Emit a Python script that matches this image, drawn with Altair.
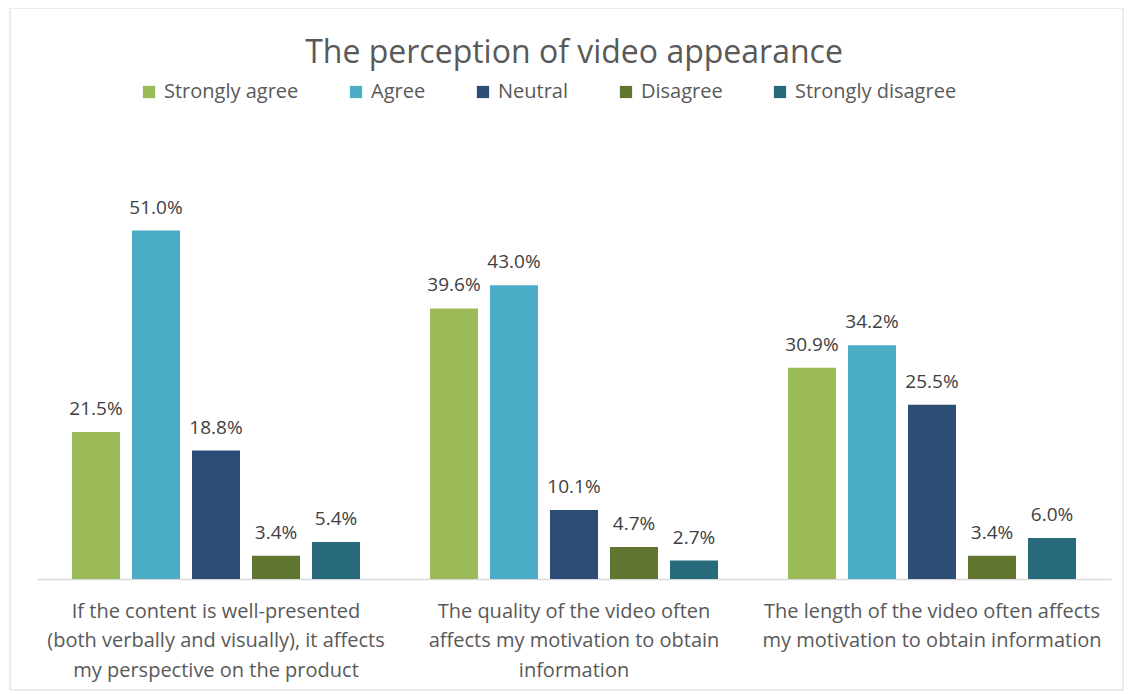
import altair as alt
import pandas as pd

questions = [
    "If the content is well-presented|(both verbally and visually), it affects|my perspective on the product",
    "The quality of the video often|affects my motivation to obtain|information",
    "The length of the video often affects|my motivation to obtain information",
]
responses = ["Strongly agree", "Agree", "Neutral", "Disagree", "Strongly disagree"]
colors = ["#9BBB59", "#4BACC6", "#2C4D75", "#5F7530", "#276A7C"]
q1_values = [21.5, 51.0, 18.8, 3.4, 5.4]
q2_values = [39.6, 43.0, 10.1, 4.7, 2.7]
q3_values = [30.9, 34.2, 25.5, 3.4, 6.0]

rows = []
for q, vals in zip(questions, [q1_values, q2_values, q3_values]):
    for r, v in zip(responses, vals):
        rows.append({"question": q, "response": r, "value": v})
df = pd.DataFrame(rows)

FONT = "Open Sans"

base = alt.Chart(df).encode(
    x=alt.X(
        "question:N",
        sort=questions,
        scale=alt.Scale(paddingInner=0, paddingOuter=0),
        axis=alt.Axis(
            title=None,
            labelExpr="split(datum.label, '|')",
            labelAngle=0,
            labelFont=FONT,
            labelFontSize=20,
            labelColor="#595959",
            labelLineHeight=29.5,
            labelPadding=22,
            labelLimit=0,
            domainColor="#d9d9d9",
            domainWidth=1.5,
            ticks=False,
        ),
    ),
    xOffset=alt.XOffset(
        "response:N",
        sort=responses,
        scale=alt.Scale(paddingInner=0.2, paddingOuter=0.583),
    ),
    y=alt.Y("value:Q", scale=alt.Scale(domain=[0, 60]), axis=None),
)

bars = base.mark_bar().encode(
    color=alt.Color(
        "response:N",
        sort=responses,
        scale=alt.Scale(domain=responses, range=colors),
        legend=alt.Legend(
            title=None,
            orient="none",
            legendX=102,
            legendY=-87,
            direction="horizontal",
            symbolType="square",
            symbolSize=150,
            symbolStrokeWidth=0,
            labelFont=FONT,
            labelFontSize=20,
            labelColor="#595959",
            labelOffset=5,
            labelLimit=0,
            columnPadding=47,
        ),
    )
)

labels = base.transform_calculate(
    label="format(datum.value, '.1f') + '%'"
).mark_text(
    dy=-13, baseline="bottom", font=FONT, fontSize=19, color="#404040"
).encode(text="label:N")

border_df = pd.DataFrame({"k": [0]})
border = alt.Chart(border_df).mark_rect(
    fill=None, stroke="#d9d9d9", strokeWidth=1
).encode(
    x=alt.value(-27), x2=alt.value(1086), y=alt.value(-161), y2=alt.value(521)
)

chart = alt.layer(border, bars, labels).properties(
    width=1074,
    height=410,
    title=alt.Title(
        "The perception of video appearance",
        font=FONT,
        fontSize=32,
        fontWeight="normal",
        color="#595959",
        anchor="middle",
        offset=-62,
    ),
    autosize=alt.AutoSizeParams(type="none"),
    padding={"left": 29, "top": 161, "right": 14, "bottom": 112},
).configure_view(stroke=None)

chart.save("out.html", embed_options={"renderer": "svg", "actions": False})
